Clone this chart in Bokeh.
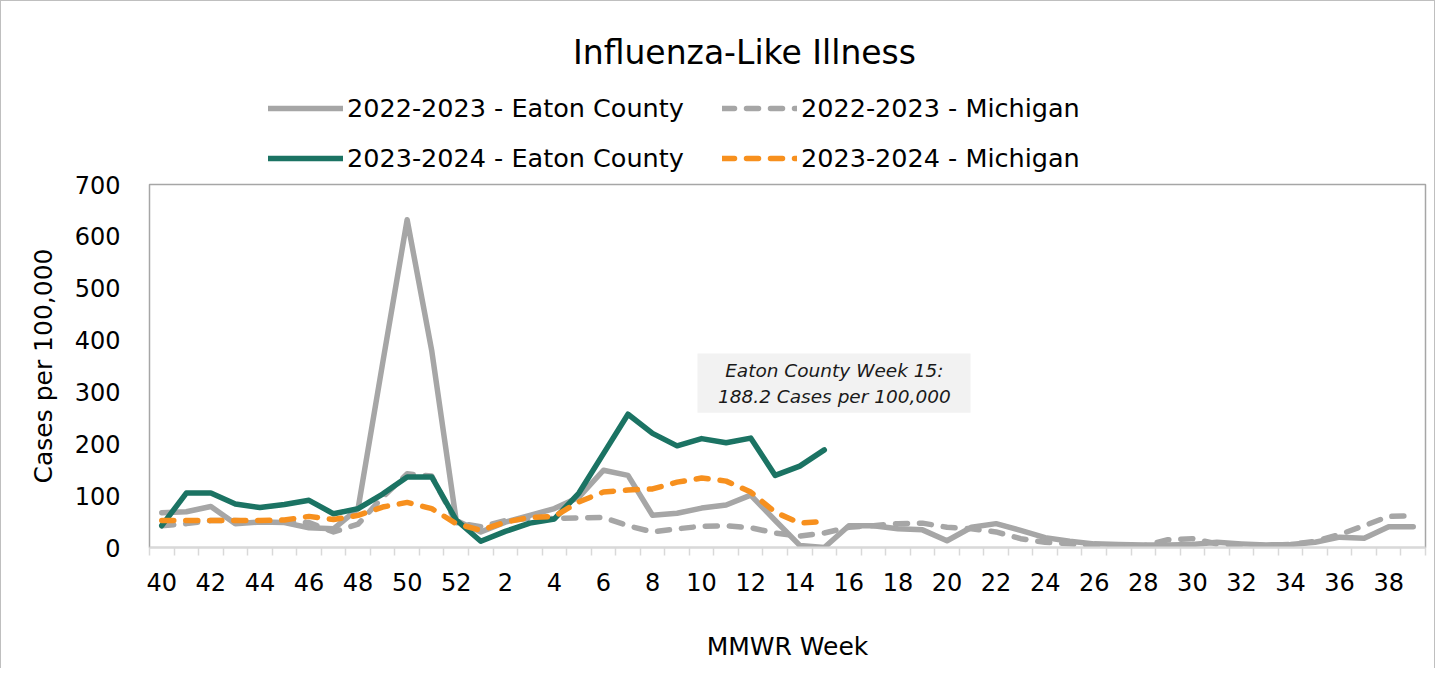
from bokeh.plotting import figure
from bokeh.layouts import column
from bokeh.models import FixedTicker, Label, BoxAnnotation, Legend, LegendItem, Range1d
from bokeh.embed import file_html
from bokeh.resources import INLINE

# ---- data ----
weeks = list(range(40, 53)) + list(range(1, 40))
tick_labels = {i: str(w) for i, w in enumerate(weeks) if i % 2 == 0}

eaton_2223 = [67, 69, 79, 46, 49, 48, 38, 36, 75, 355, 632, 380, 52,
              30, 49, 62, 75, 97, 149, 139, 62, 66, 76, 82, 101, 52, 4, 0,
              42, 42, 36, 34, 13, 39, 46, 33, 19, 12, 7, 6, 5, 5, 6, 10, 7, 5, 6, 10, 20, 18, 40, 40]
mich_2223 = [42, 46, 52, 52, 50, 50, 48, 30, 45, 97, 142, 138, 48,
             40, 52, 56, 56, 57, 58, 42, 30, 36, 41, 42, 38, 28, 22, 28,
             39, 42, 46, 47, 39, 36, 30, 17, 10, 7, 5, 3, 3, 15, 17, 7, 5, 4, 6, 12, 25, 42, 60, 61]
eaton_2324 = [42, 105, 105, 84, 77, 83, 91, 65, 75, 103, 136, 136, 53,
              12, 31, 47, 55, 105, 181, 257, 220, 196, 210, 202, 211, 139, 157, 188.2]
mich_2324 = [52, 52, 52, 52, 52, 53, 60, 54, 62, 78, 87, 75, 46,
             33, 49, 58, 60, 88, 107, 111, 113, 126, 134, 128, 107, 68, 47, 50]

series_names = ["2022-2023 - Eaton County", "2022-2023 - Michigan",
                "2023-2024 - Eaton County", "2023-2024 - Michigan"]
y_ticks = [0, 100, 200, 300, 400, 500, 600, 700]

FONT = "DejaVu Sans"
W = 1433
HEAD_H = 171
MAIN_H = 496
LEFT, RIGHT = 148, 9

styles = [
    dict(line_color="#a6a6a6", line_width=5.5, line_join="round", line_cap="round"),
    dict(line_color="#a6a6a6", line_width=5.5, line_join="round", line_cap="round", line_dash="12 12"),
    dict(line_color="#1b7363", line_width=5.5, line_join="round", line_cap="round"),
    dict(line_color="#f7901e", line_width=5.5, line_join="round", line_cap="round", line_dash="12 12"),
]

# ---------- header (title + legend) ----------
head = figure(width=W, height=HEAD_H, x_range=Range1d(LEFT + 1, W - RIGHT + 1),
              y_range=Range1d(HEAD_H, 0),
              output_backend="svg", toolbar_location=None,
              min_border_left=LEFT, min_border_right=RIGHT, min_border_top=0, min_border_bottom=0,
              x_axis_location=None, y_axis_location=None)
head.grid.visible = False
head.outline_line_color = None
head.add_layout(Label(x=744, y=51, text="Influenza-Like Illness", text_align="center",
                      text_baseline="middle", text_font=FONT, text_font_size="33px",
                      text_color="#000000"))
# legend swatches (kept outside the visible header range)
dummies = [head.line(x=[0, 1], y=[-500, -500], **s) for s in styles]
order = [0, 2, 1, 3]  # legend fills column by column
legend = Legend(items=[LegendItem(label=series_names[k], renderers=[dummies[k]]) for k in order],
                ncols=2, location=(119, -1), glyph_width=75, glyph_height=30,
                label_width=355, spacing=20, padding=0, margin=0,
                border_line_alpha=0, background_fill_alpha=0,
                label_text_font=FONT, label_text_font_size="25.5px", label_standoff=4,
                label_text_color="#000000")
head.add_layout(legend)

# ---------- main chart ----------
p = figure(width=W, height=MAIN_H, x_range=(-0.5, len(weeks) - 0.5), y_range=(0, 700),
           output_backend="svg", toolbar_location=None,
           min_border_left=LEFT, min_border_right=RIGHT, min_border_top=12, min_border_bottom=121)
p.xgrid.visible = False
p.ygrid.visible = False
p.outline_line_color = "#a6a6a6"
p.outline_line_width = 1.5

xs_all = list(range(len(weeks)))
p.line(xs_all, eaton_2223, **styles[0])
p.line(xs_all, mich_2223, **styles[1])
p.line(xs_all[:len(eaton_2324)], eaton_2324, **styles[2])
p.line(xs_all[:len(mich_2324)], mich_2324, **styles[3])

# x axis
xa = p.xaxis[0]
xa.ticker = FixedTicker(ticks=sorted(tick_labels.keys()),
                        minor_ticks=[i - 0.5 for i in range(len(weeks) + 1)])
xa.major_label_overrides = tick_labels
xa.major_tick_line_color = None
xa.major_tick_out = 0
xa.major_tick_in = 0
xa.minor_tick_line_color = "#d9d9d9"
xa.minor_tick_line_width = 1.5
xa.minor_tick_out = 8
xa.minor_tick_in = 0
xa.axis_line_color = "#d9d9d9"
xa.axis_line_width = 2
xa.major_label_text_font = FONT
xa.major_label_text_font_size = "24px"
xa.major_label_text_color = "#000000"
xa.major_label_standoff = 17
xa.axis_label = "MMWR Week"
xa.axis_label_text_font = FONT
xa.axis_label_text_font_size = "25px"
xa.axis_label_text_font_style = "normal"
xa.axis_label_text_color = "#000000"
xa.axis_label_standoff = 38

# y axis
ya = p.yaxis[0]
ya.ticker = FixedTicker(ticks=y_ticks)
ya.axis_line_color = None
ya.major_tick_line_color = None
ya.minor_tick_line_color = None
ya.major_label_text_font = FONT
ya.major_label_text_font_size = "24px"
ya.major_label_text_color = "#000000"
ya.major_label_standoff = 23
ya.axis_label = "Cases per 100,000"
ya.axis_label_text_font = FONT
ya.axis_label_text_font_size = "25px"
ya.axis_label_text_font_style = "normal"
ya.axis_label_text_color = "#000000"
ya.axis_label_standoff = 14

# annotation box
p.add_layout(BoxAnnotation(left=21.83, right=32.96, bottom=260, top=374,
                           fill_color="#f2f2f2", fill_alpha=1, line_color=None))
p.add_layout(Label(x=27.41, y=341, text="Eaton County Week 15:", text_align="center",
                   text_baseline="middle", text_font=FONT, text_font_size="18.5px",
                   text_font_style="italic", text_color="#1a1a1a"))
p.add_layout(Label(x=27.41, y=291, text="188.2 Cases per 100,000", text_align="center",
                   text_baseline="middle", text_font=FONT, text_font_size="18.5px",
                   text_font_style="italic", text_color="#1a1a1a"))

layout = column(head, p, spacing=0)
layout.styles = {"border-top": "1px solid #bfbfbf", "border-left": "1px solid #bfbfbf",
                 "border-right": "1px solid #bfbfbf"}

open("out.html", "w").write(file_html(layout, INLINE))
